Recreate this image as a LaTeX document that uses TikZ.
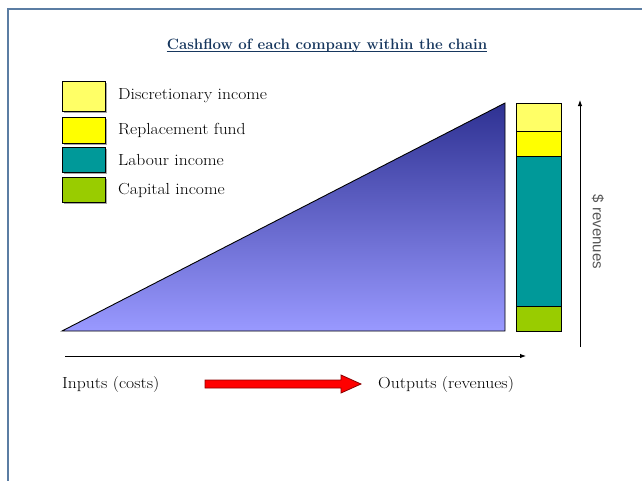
\documentclass[tikz,border=0pt]{standalone}
\usepackage{fontspec}
\usepackage{graphicx}
\newfontfamily\revfont{Liberation Sans}
\usetikzlibrary{arrows.meta}
\definecolor{framec}{HTML}{5B7DA3}
\definecolor{navyc}{HTML}{17375E}
\definecolor{discc}{HTML}{FFFF66}
\definecolor{replc}{HTML}{FFFF00}
\definecolor{labc}{HTML}{009999}
\definecolor{capc}{HTML}{99CC00}
\definecolor{tritop}{HTML}{2E3192}
\definecolor{tribot}{HTML}{9999FF}
\definecolor{redc}{HTML}{FF0000}
\definecolor{redd}{HTML}{8B0000}
\definecolor{revc}{HTML}{555555}
\newcommand{\widetxt}[1]{\scalebox{1.1}[1.0]{#1}}
\tikzset{
  legbox/.style={draw=black, line width=0.9pt, minimum width=43pt, minimum height=#1, inner sep=0pt},
  legtext/.style={anchor=west, inner sep=0pt, font=\fontsize{16}{18}\selectfont},
  axis/.style={draw=black, line width=0.9pt, -{Latex[length=6pt,width=4.5pt]}},
  barseg/.style={draw=black, line width=0.9pt},
  plain/.style={anchor=west, inner sep=0pt, font=\fontsize{16}{18}\selectfont},
}
\begin{document}
\begin{tikzpicture}[x=1pt,y=-1pt]
\useasboundingbox (0,0) rectangle (642,480);
% frame
\draw[framec, line width=1.6pt] (8,481) -- (8,9) -- (643,9);
% title
\node[anchor=base, inner sep=0pt, text=navyc, font=\fontsize{15}{17}\selectfont\bfseries] (title) at (327,49) {Cashflow of each company within the chain};
\draw[navyc, line width=1.4pt] ([yshift=-2.5pt]title.base west) -- ([yshift=-2.5pt]title.base east);
% legend
\foreach \yc/\h in {96/30, 130/26, 159.5/25, 189.5/25}{
  \fill[gray!70] (63.5,\yc-\h/2+1.5) rectangle (106.5,\yc+\h/2+1.5);
}
\node[legbox=30pt, fill=discc] (b1) at (83.5,96) {};
\node[legbox=26pt, fill=replc] (b2) at (83.5,130) {};
\node[legbox=25pt, fill=labc] (b3) at (83.5,159.5) {};
\node[legbox=25pt, fill=capc] (b4) at (83.5,189.5) {};
\node[legtext] (t1) at (118,96) {\widetxt{Discretionary income}};
\node[legtext] (t2) at (118,130) {\widetxt{Replacement fund}};
\node[legtext] (t3) at (118,160) {\widetxt{Labour income}};
\node[legtext] (t4) at (118,190) {\widetxt{Capital income}};
% triangle
\coordinate (ta) at (62,331);
\coordinate (tb) at (505,103);
\coordinate (tc) at (505,331);
\shade[top color=tritop, bottom color=tribot, draw=black, line width=0.9pt] (ta) -- (tb) -- (tc) -- cycle;
% bar
\draw[barseg, fill=discc] (516,103) rectangle (561,131);
\draw[barseg, fill=replc] (516,131) rectangle (561,156);
\draw[barseg, fill=labc] (516,156) rectangle (561,306);
\draw[barseg, fill=capc] (516,306) rectangle (561,331);
% vertical axis
\coordinate (v0) at (580,347);
\coordinate (v1) at (580,100);
\draw[axis] (v0) -- (v1);
\node[rotate=-90, inner sep=0pt, text=revc, font=\revfont\fontsize{15}{17}\selectfont] (rev) at (598,232) {\$ revenues};
% horizontal axis
\coordinate (h0) at (65,356);
\coordinate (h1) at (526,356);
\draw[axis] (h0) -- (h1);
\node[plain] (inp) at (62,384) {\widetxt{Inputs (costs)}};
\node[plain] (outp) at (378,384) {\widetxt{Outputs (revenues)}};
% red arrow
\draw[fill=redc, draw=redd, line width=0.8pt, line join=miter]
  (205,380) -- (341,380) -- (341,375) -- (361,384) -- (341,393) -- (341,388) -- (205,388) -- cycle;
\end{tikzpicture}
\end{document}
